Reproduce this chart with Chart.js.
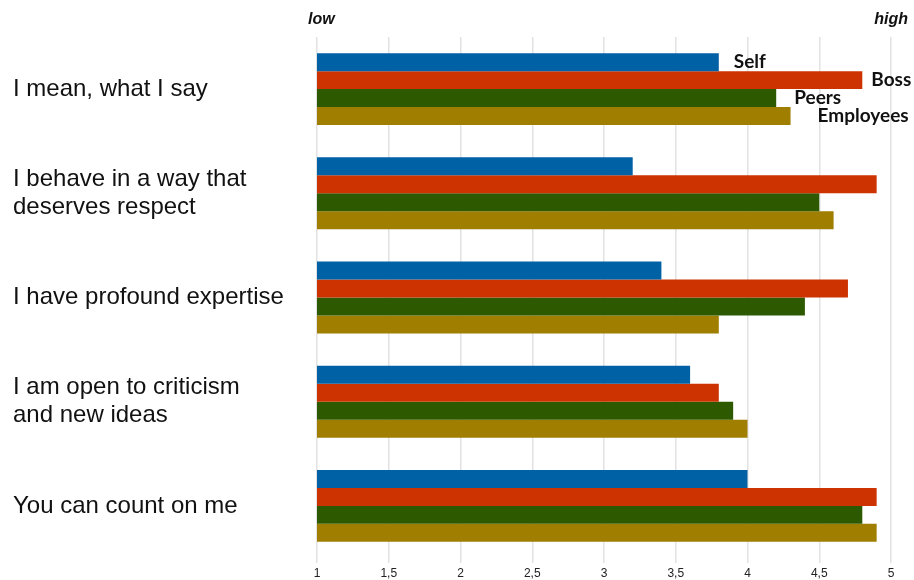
<!DOCTYPE html>
<html>
<head>
<meta charset="utf-8">
<script src="https://cdn.jsdelivr.net/npm/chart.js@4/dist/chart.umd.min.js"></script>
<style>
  html, body { margin: 0; padding: 0; background: #fff; }
  #wrap { width: 914px; height: 580px; position: relative; }
</style>
</head>
<body>
<div id="wrap"><canvas id="c" width="914" height="580"></canvas></div>
<script>
const categories = [
  "I mean, what I say",
  ["I behave in a way that", "deserves respect"],
  "I have profound expertise",
  ["I am open to criticism", "and new ideas"],
  "You can count on me"
];
const seriesNames = ["Self", "Boss", "Peers", "Employees"];
const selfValues      = [3.8, 3.2, 3.4, 3.6, 4.0];
const bossValues      = [4.8, 4.9, 4.7, 3.8, 4.9];
const peersValues     = [4.2, 4.5, 4.4, 3.9, 4.8];
const employeesValues = [4.3, 4.6, 3.8, 4.0, 4.9];
const tickValues = [1, 1.5, 2, 2.5, 3, 3.5, 4, 4.5, 5];
const scaleEndLabels = ["low", "high"];

const colors = ["#0061a5", "#cc3300", "#2d5a00", "#a07e00"];
const allValues = [selfValues, bossValues, peersValues, employeesValues];

const labelPlugin = {
  id: 'extraLabels',
  afterDatasetsDraw(chart, args, opts) {
    const ctx = chart.ctx;
    const xs = chart.scales.x;
    ctx.save();
    ctx.font = 'italic bold 16px "Liberation Sans", Arial, sans-serif';
    ctx.fillStyle = '#111';
    ctx.textBaseline = 'middle';
    ctx.textAlign = 'left';
    ctx.fillText(scaleEndLabels[0], xs.getPixelForValue(1) - 9, 20);
    ctx.textAlign = 'right';
    ctx.fillText(scaleEndLabels[1], xs.getPixelForValue(5) + 17, 20);
    ctx.font = 'bold 19px Lato, "Open Sans", sans-serif';
    ctx.textAlign = 'left';
    const dx = opts.offsets;
    chart.data.datasets.forEach((ds, i) => {
      const bar = chart.getDatasetMeta(i).data[0];
      ctx.fillText(ds.label, bar.x + dx[i], bar.y);
    });
    ctx.restore();
  }
};

new Chart(document.getElementById('c'), {
  type: 'bar',
  data: {
    labels: categories,
    datasets: seriesNames.map((n, i) => ({
      label: n,
      data: allValues[i],
      backgroundColor: colors[i],
      borderWidth: 0,
      barPercentage: 1.0,
      categoryPercentage: 0.69
    }))
  },
  options: {
    indexAxis: 'y',
    responsive: false,
    animation: false,
    layout: { padding: { left: 13, right: 23, top: 37, bottom: 0 } },
    plugins: {
      legend: { display: false },
      tooltip: { enabled: false },
      extraLabels: { offsets: [15, 9, 18, 27] }
    },
    scales: {
      x: {
        min: 1, max: 5,
        afterBuildTicks(scale) { scale.ticks = tickValues.map(v => ({ value: v })); },
        afterFit(scale) { scale.height = 22; },
        grid: { color: '#e2e2e2', lineWidth: 1.5, tickLength: 5, drawTicks: true },
        border: { display: false },
        ticks: {
          padding: 3,
          color: '#222',
          font: { family: '"Liberation Sans", Arial, sans-serif', size: 12 },
          callback: (v) => String(v).replace('.', ',')
        }
      },
      y: {
        grid: { display: false },
        border: { display: false },
        afterFit(scale) { scale.width = 304; },
        ticks: {
          crossAlign: 'far',
          color: '#111',
          font: { family: '"Liberation Sans", Arial, sans-serif', size: 24, lineHeight: 1.17 }
        }
      }
    }
  },
  plugins: [labelPlugin]
});
</script>
</body>
</html>
